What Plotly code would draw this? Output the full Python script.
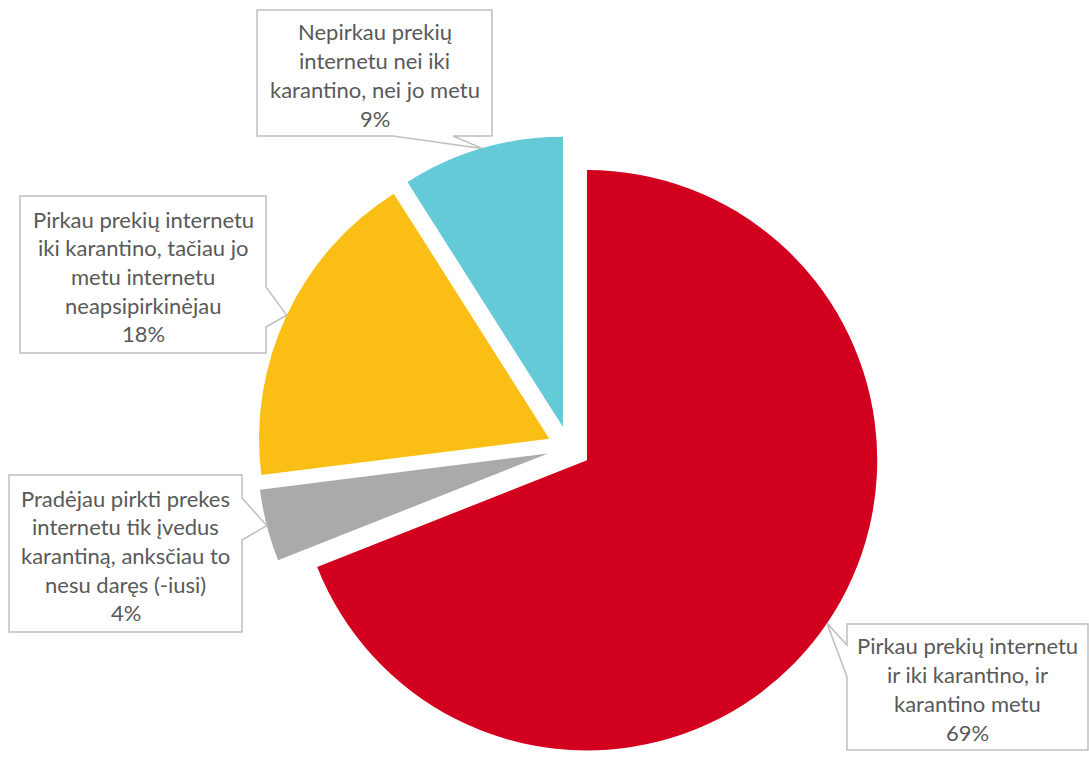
import math
import plotly.graph_objects as go

# Survey answers (Lithuanian), one entry per pie slice
label_lines = [
    ["Pirkau prekių internetu", "ir iki karantino, ir", "karantino metu"],
    ["Pradėjau pirkti prekes", "internetu tik įvedus", "karantiną, anksčiau to", "nesu daręs (-iusi)"],
    ["Pirkau prekių internetu", "iki karantino, tačiau jo", "metu internetu", "neapsipirkinėjau"],
    ["Nepirkau prekių", "internetu nei iki", "karantino, nei jo metu"],
]
values = [69, 4, 18, 9]
colors = ["#D2001E", "#A8AAAB", "#FBBE15", "#64CAD8"]

labels = [" ".join(lines) for lines in label_lines]

# Canvas and pie geometry (pixels, origin top-left)
W, H = 1089, 760
PULL = 0.075
CX, CY = 569, 448
RY = H - CY
R = RY / (1 + PULL)

dom_x = [(CX - RY - 30) / W, (CX + RY + 30) / W]
dom_y = [0, 2 * RY / H]

TEXT_COLOR = "#595959"
BORDER = "#BFBFBF"
FONT = "Lato"
FONT_SIZE = 22
LINE_GAP = 28.7


def px2paper(x, y):
    return x / W, 1 - y / H


def slice_tip(i):
    """Midpoint of the outer arc of slice i (after pulling), in pixels."""
    total = sum(values)
    start = sum(values[:i]) / total * 360
    mid = math.radians(start + values[i] / total * 360 / 2)
    rr = R * (1 + PULL)
    return CX + rr * math.sin(mid), CY - rr * math.cos(mid)


# Callout boxes: (x0, y0, x1, y1), side carrying the pointer, pointer base span
callouts = [
    dict(box=(847, 624, 1088, 750), side="left", base=(645, 677)),
    dict(box=(9, 475, 242, 632), side="right", base=(498, 540)),
    dict(box=(20, 196, 266, 353), side="right", base=(287, 327)),
    dict(box=(257, 10, 492, 136), side="bottom", base=(393, 453)),
]


def callout_path(c, tip):
    x0, y0, x1, y1 = c["box"]
    b0, b1 = c["base"]
    if c["side"] == "bottom":
        pts = [(x0, y0), (x1, y0), (x1, y1), (b1, y1), tip, (b0, y1), (x0, y1)]
    elif c["side"] == "right":
        pts = [(x0, y0), (x1, y0), (x1, b0), tip, (x1, b1), (x1, y1), (x0, y1)]
    else:
        pts = [(x0, y0), (x1, y0), (x1, y1), (x0, y1), (x0, b1), tip, (x0, b0)]
    segs = []
    for k, (x, y) in enumerate(pts):
        px, py = px2paper(x, y)
        segs.append(("M" if k == 0 else "L") + f"{px:.5f},{py:.5f}")
    return " ".join(segs) + " Z"


fig = go.Figure(
    go.Pie(
        labels=labels,
        values=values,
        marker=dict(colors=colors, line=dict(width=0)),
        pull=[PULL] * len(values),
        sort=False,
        direction="clockwise",
        rotation=0,
        textinfo="none",
        hoverinfo="label+percent",
        domain=dict(x=dom_x, y=dom_y),
        showlegend=False,
    )
)

shapes = []
annotations = []
total = sum(values)
for i, c in enumerate(callouts):
    tip = slice_tip(i)
    shapes.append(
        dict(
            type="path",
            xref="paper",
            yref="paper",
            path=callout_path(c, tip),
            fillcolor="white",
            line=dict(color=BORDER, width=1.5),
            layer="above",
        )
    )
    x0, y0, x1, y1 = c["box"]
    pct = f"{round(values[i] / total * 100)}%"
    lines = label_lines[i] + [pct]
    n = len(lines)
    cx_box = (x0 + x1) / 2
    cy_box = (y0 + y1) / 2 + 2
    for k, line in enumerate(lines):
        lx, ly = px2paper(cx_box, cy_box + (k - (n - 1) / 2) * LINE_GAP)
        annotations.append(
            dict(
                x=lx,
                y=ly,
                xref="paper",
                yref="paper",
                text=line,
                showarrow=False,
                xanchor="center",
                yanchor="middle",
                font=dict(family=FONT, size=FONT_SIZE, color=TEXT_COLOR),
            )
        )

fig.update_layout(
    width=W,
    height=H,
    margin=dict(l=0, r=0, t=0, b=0),
    paper_bgcolor="white",
    plot_bgcolor="white",
    shapes=shapes,
    annotations=annotations,
)

fig.write_html("out.html")
